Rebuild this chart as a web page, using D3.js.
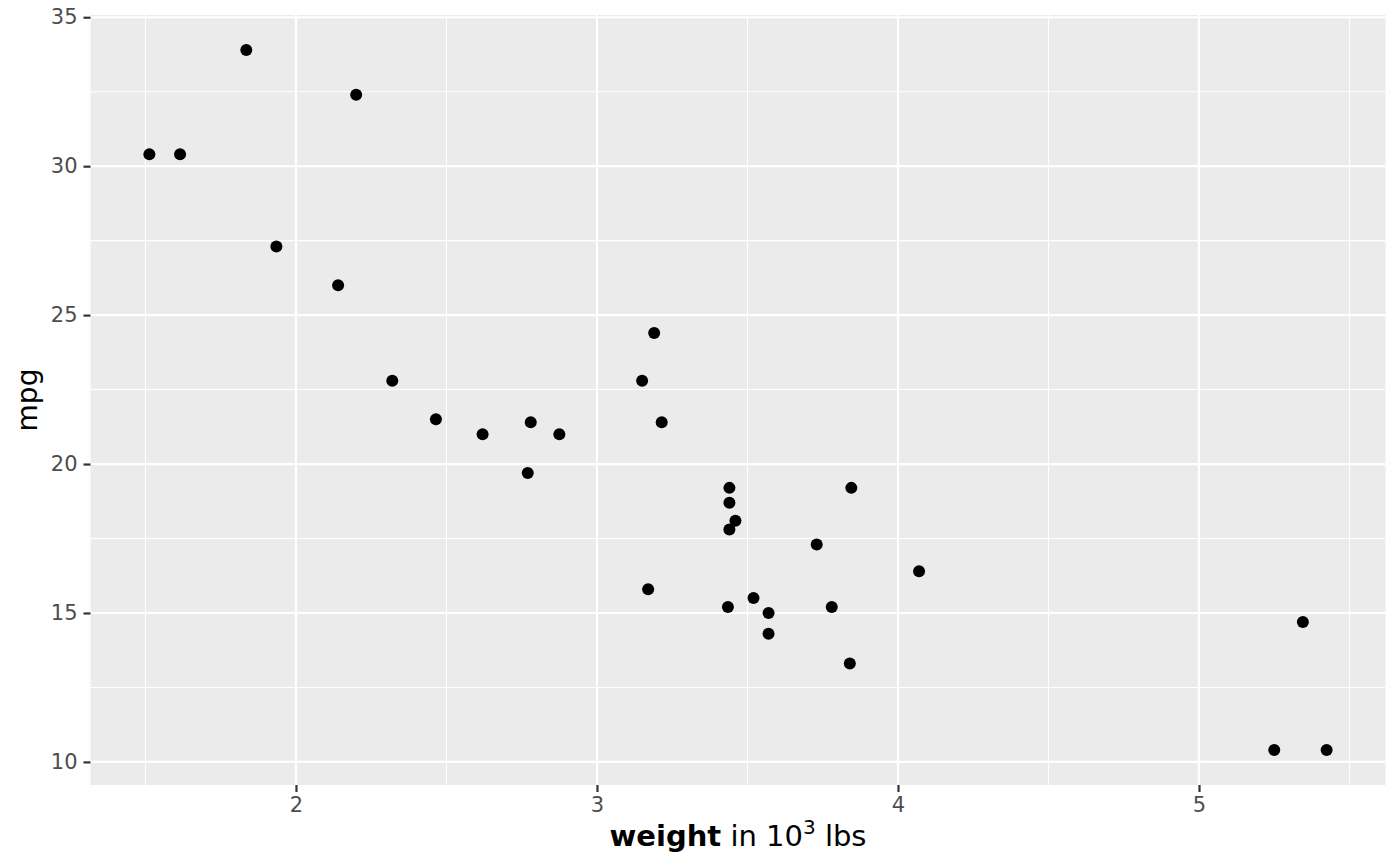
<!DOCTYPE html>
<html>
<head>
<meta charset="utf-8">
<script src="https://cdn.jsdelivr.net/npm/d3@7"></script>
<style>
  body { margin: 0; background: #fff; }
  #chart { width: 1400px; height: 866px; }
  .tick text { font-family: "DejaVu Sans", sans-serif; font-size: 21px; fill: #4d4d4d; }
</style>
</head>
<body>
<div id="chart"></div>
<script>
// mtcars: weight (1000 lbs) and mpg
const wt = [2.620, 2.875, 2.320, 3.215, 3.440, 3.460, 3.570, 3.190, 3.150, 3.440, 3.440,
  4.070, 3.730, 3.780, 5.250, 5.424, 5.345, 2.200, 1.615, 1.835, 2.465, 3.520, 3.435,
  3.840, 3.845, 1.935, 2.140, 1.513, 3.170, 2.770, 3.570, 2.780];
const mpg = [21.0, 21.0, 22.8, 21.4, 18.7, 18.1, 14.3, 24.4, 22.8, 19.2, 17.8,
  16.4, 17.3, 15.2, 10.4, 10.4, 14.7, 32.4, 30.4, 33.9, 21.5, 15.5, 15.2,
  13.3, 19.2, 27.3, 26.0, 30.4, 15.8, 19.7, 15.0, 21.4];
const xTicks = [2, 3, 4, 5];
const xMinor = [1.5, 2.5, 3.5, 4.5, 5.5];
const yTicks = [10, 15, 20, 25, 30, 35];
const yMinor = [12.5, 17.5, 22.5, 27.5, 32.5];

const width = 1400, height = 866;
const margin = { top: 15, left: 90.5, right: 14.5, bottom: 81 };

const svg = d3.select("#chart").append("svg")
  .attr("width", width)
  .attr("height", height);

// ggplot-style 5% expansion
const xr = d3.extent(wt), yr = d3.extent(mpg);
const xPad = (xr[1] - xr[0]) * 0.05, yPad = (yr[1] - yr[0]) * 0.05;

const xScale = d3.scaleLinear()
  .domain([xr[0] - xPad, xr[1] + xPad])
  .range([margin.left, width - margin.right]);

const yScale = d3.scaleLinear()
  .domain([yr[0] - yPad, yr[1] + yPad])
  .range([height - margin.bottom, margin.top]);

// panel
svg.append("rect")
  .attr("x", margin.left)
  .attr("y", margin.top)
  .attr("width", width - margin.right - margin.left)
  .attr("height", height - margin.bottom - margin.top)
  .attr("fill", "#ebebeb");

// grid lines
const grid = svg.append("g").attr("stroke", "#fff").attr("fill", "none");
grid.selectAll(".xminor").data(xMinor.filter(d => xScale(d) < width - margin.right)).join("line")
  .attr("x1", d => xScale(d)).attr("x2", d => xScale(d))
  .attr("y1", margin.top).attr("y2", height - margin.bottom)
  .attr("stroke-width", 1.1);
grid.selectAll(".yminor").data(yMinor).join("line")
  .attr("y1", d => yScale(d)).attr("y2", d => yScale(d))
  .attr("x1", margin.left).attr("x2", width - margin.right)
  .attr("stroke-width", 1.1);
grid.selectAll(".xmajor").data(xTicks).join("line")
  .attr("x1", d => xScale(d)).attr("x2", d => xScale(d))
  .attr("y1", margin.top).attr("y2", height - margin.bottom)
  .attr("stroke-width", 2.2);
grid.selectAll(".ymajor").data(yTicks).join("line")
  .attr("y1", d => yScale(d)).attr("y2", d => yScale(d))
  .attr("x1", margin.left).attr("x2", width - margin.right)
  .attr("stroke-width", 2.2);

// axes
const xAxis = svg.append("g")
  .attr("transform", `translate(0,${height - margin.bottom})`)
  .call(d3.axisBottom(xScale).tickValues(xTicks).tickSize(7).tickPadding(5).tickFormat(d3.format("d")));
const yAxis = svg.append("g")
  .attr("transform", `translate(${margin.left},0)`)
  .call(d3.axisLeft(yScale).tickValues(yTicks).tickSize(7).tickPadding(6).tickFormat(d3.format("d")));
[xAxis, yAxis].forEach(a => {
  a.select(".domain").remove();
  a.selectAll(".tick line").attr("stroke", "#333").attr("stroke-width", 2.2);
});

// points
svg.append("g").selectAll("circle")
  .data(wt.map((w, i) => ({ wt: w, mpg: mpg[i] })))
  .join("circle")
  .attr("cx", d => xScale(d.wt))
  .attr("cy", d => yScale(d.mpg))
  .attr("r", 6)
  .attr("fill", "#000");

// axis labels
const xl = svg.append("text")
  .attr("x", (margin.left + width - margin.right) / 2)
  .attr("y", 846)
  .attr("text-anchor", "middle")
  .attr("font-family", "DejaVu Sans, sans-serif")
  .attr("font-size", 29)
  .attr("fill", "#000");
xl.append("tspan").attr("font-weight", "bold").text("weight");
xl.append("tspan").text(" in 10");
xl.append("tspan").attr("font-size", 20).attr("dy", -12).text("3");
xl.append("tspan").attr("dy", 12).text(" lbs");

svg.append("text")
  .attr("transform", `translate(37,${(margin.top + height - margin.bottom) / 2}) rotate(-90)`)
  .attr("text-anchor", "middle")
  .attr("font-family", "DejaVu Sans, sans-serif")
  .attr("font-size", 28)
  .attr("fill", "#000")
  .text("mpg");
</script>
</body>
</html>
